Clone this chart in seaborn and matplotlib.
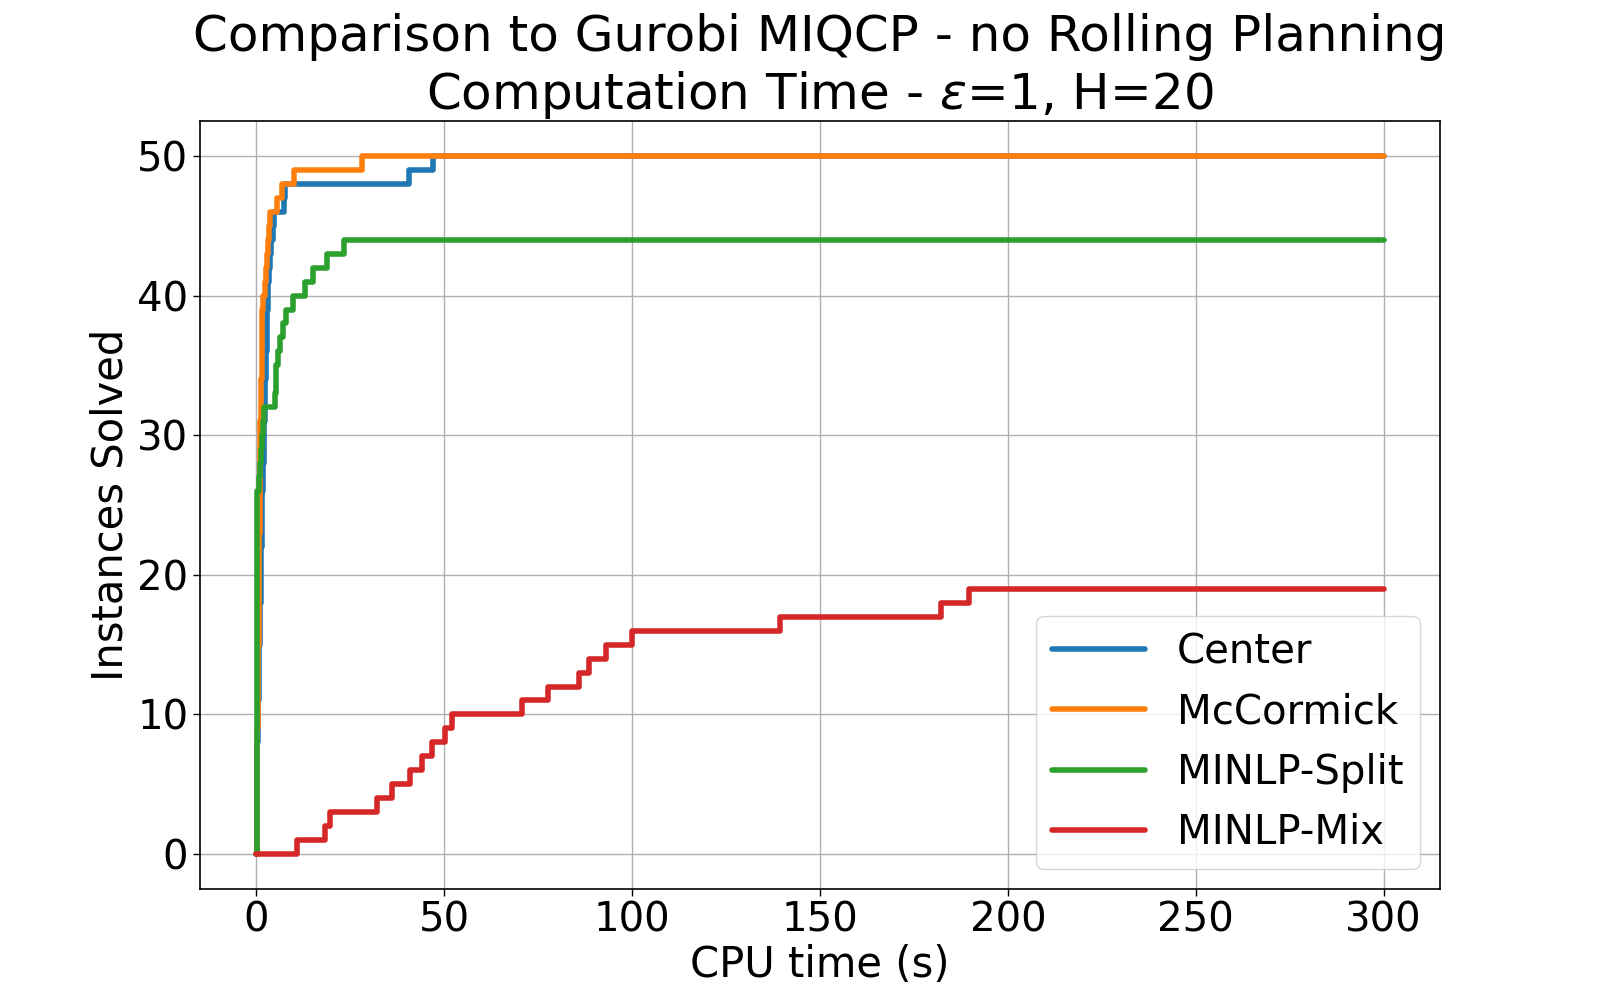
"""
plot.py
Instances solved over CPU time, compared to Gurobi MIQCP.
"""

import numpy as np
import pandas as pd
import matplotlib
matplotlib.use('Agg')
import matplotlib.pyplot as plt
import seaborn as sns

T_MAX = 300

# solve times (s) of each instance
center_times = [0.1, 0.1, 0.2, 0.2, 0.2, 0.3, 0.3, 0.3, 0.4, 0.4,
                0.5, 0.6, 0.6, 0.7, 0.8, 0.9, 1.0, 1.1, 1.2, 1.2,
                1.3, 1.3, 1.4, 1.5, 1.5, 1.6, 1.7, 1.8, 1.9, 2.0,
                2.1, 2.2, 2.3, 2.4, 2.5, 2.6, 2.7, 2.8, 2.9, 3.0,
                3.2, 3.4, 3.7, 4.0, 4.3, 4.8, 7.3, 7.6, 40.5, 47.0]
mccormick_times = [0.05, 0.1, 0.1, 0.15, 0.2, 0.2, 0.25, 0.3, 0.3, 0.35,
                   0.4, 0.45, 0.5, 0.5, 0.55, 0.6, 0.6, 0.65, 0.7, 0.7,
                   0.75, 0.8, 0.8, 0.85, 0.85, 0.9, 0.9, 0.95,
                   1.0, 1.05, 1.1, 1.2, 1.25, 1.3, 1.4, 1.45, 1.5, 1.55, 1.6, 1.7,
                   2.2, 2.5, 2.9, 3.2, 3.4, 3.6, 5.4, 6.8, 10.1, 28.2]
split_times = [0.05, 0.05, 0.05, 0.1, 0.1, 0.1, 0.1, 0.1, 0.15, 0.15,
               0.15, 0.15, 0.15, 0.2, 0.2, 0.2, 0.2, 0.2, 0.25, 0.25,
               0.25, 0.25, 0.3, 0.3, 0.3, 0.3,
               0.6, 0.9, 1.3, 1.5, 1.7, 2.0, 4.9, 5.1, 5.3, 5.8,
               6.2, 7.0, 8.0, 9.8, 12.9, 15.2, 18.8, 23.4]
mix_times = [10.8, 18.2, 19.7, 32.2, 36.1, 41.0, 44.1, 46.8, 50.3, 52.1,
             70.6, 77.5, 85.9, 88.5, 93.1, 100.0, 139.4, 182.3, 189.6]

methods = ['Center', 'McCormick', 'MINLP-Split', 'MINLP-Mix']
all_times = [center_times, mccormick_times, split_times, mix_times]
colors = ['#1f77b4', '#ff7f0e', '#2ca02c', '#d62728']


def solved_curve(times):
    """Cumulative number of solved instances as a step curve."""
    times = sorted(times)
    x = [0.0] + times + [T_MAX]
    y = [0] + list(range(1, len(times) + 1)) + [len(times)]
    return pd.DataFrame({'time': x, 'solved': y})


sns.set_style('ticks', {'axes.grid': True, 'grid.color': '#b0b0b0',
                        'axes.edgecolor': 'black'})
plt.rcParams['font.family'] = ['DejaVu Sans']
plt.rcParams['font.size'] = 30
for key in ['text.color', 'axes.labelcolor', 'xtick.color', 'ytick.color']:
    plt.rcParams[key] = 'black'

fig = plt.figure(figsize=(16, 10), dpi=100)
ax = fig.add_axes([0.125, 0.111, 0.775, 0.768])

for name, times, color in zip(methods, all_times, colors):
    df = solved_curve(times)
    sns.lineplot(data=df, x='time', y='solved', ax=ax, label=name, color=color,
                 estimator=None, sort=False, drawstyle='steps-post', linewidth=4)

ax.set_xticks([0, 50, 100, 150, 200, 250, 300])
ax.set_yticks([0, 10, 20, 30, 40, 50])
ax.tick_params(labelsize=29, length=5, width=1)
ax.set_xlabel('CPU time (s)', fontsize=30, labelpad=2)
ax.set_ylabel('Instances Solved', fontsize=30)
ax.set_title('Comparison to Gurobi MIQCP - no Rolling Planning\n'
             'Computation Time - $\\epsilon$=1, H=20', fontsize=36, pad=8)
ax.grid(True, color='#b0b0b0', linewidth=1)
for sp in ax.spines.values():
    sp.set_linewidth(1.2)
ax.legend(loc='lower right', fontsize=29, handlelength=2.3)

fig.savefig('out.png', dpi=100)
